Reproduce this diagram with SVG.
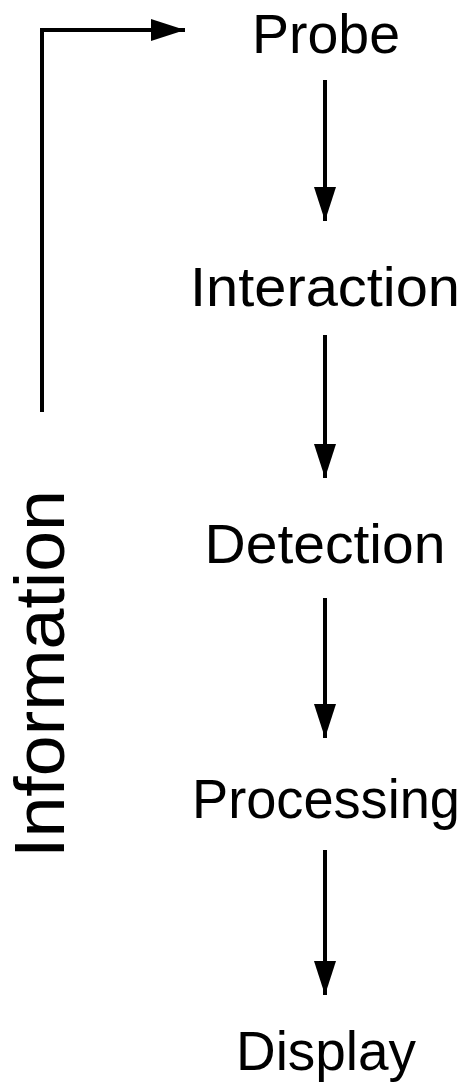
<svg xmlns="http://www.w3.org/2000/svg" width="467" height="1085" viewBox="0 0 467 1085">
<style>
.lbl{font-family:"Liberation Sans",Arial,sans-serif;font-size:56px;fill:#000;text-anchor:middle}
.big{font-family:"Liberation Sans",Arial,sans-serif;font-size:71px;fill:#000;text-anchor:middle}
.ln{stroke:#000;stroke-width:4;fill:none}
</style>
<defs>
<marker id="ah" markerUnits="userSpaceOnUse" markerWidth="34" markerHeight="22" refX="34" refY="11" orient="auto">
<path d="M0,0 L34,11 L0,22 Z" fill="#000"/>
</marker>
</defs>
<rect width="467" height="1085" fill="#fff"/>
<g id="probe"><text class="lbl" x="326" y="53" textLength="148" lengthAdjust="spacingAndGlyphs">Probe</text></g>
<g id="interaction"><text class="lbl" x="325" y="306" textLength="270" lengthAdjust="spacingAndGlyphs">Interaction</text></g>
<g id="detection"><text class="lbl" x="325" y="563" textLength="241" lengthAdjust="spacingAndGlyphs">Detection</text></g>
<g id="processing"><text class="lbl" x="326" y="818" textLength="268" lengthAdjust="spacingAndGlyphs">Processing</text></g>
<g id="display"><text class="lbl" x="326" y="1070" textLength="180" lengthAdjust="spacingAndGlyphs">Display</text></g>
<g id="information"><text class="big" transform="translate(64,674) rotate(-90)" x="0" y="0" textLength="368" lengthAdjust="spacingAndGlyphs">Information</text></g>
<g id="connectors">
<line class="ln" x1="325" y1="80" x2="325" y2="221" marker-end="url(#ah)"/>
<line class="ln" x1="325" y1="335" x2="325" y2="478" marker-end="url(#ah)"/>
<line class="ln" x1="325" y1="598" x2="325" y2="738" marker-end="url(#ah)"/>
<line class="ln" x1="325" y1="850" x2="325" y2="995" marker-end="url(#ah)"/>
<polyline class="ln" points="42,412 42,30 185,30" marker-end="url(#ah)"/>
</g>
</svg>
